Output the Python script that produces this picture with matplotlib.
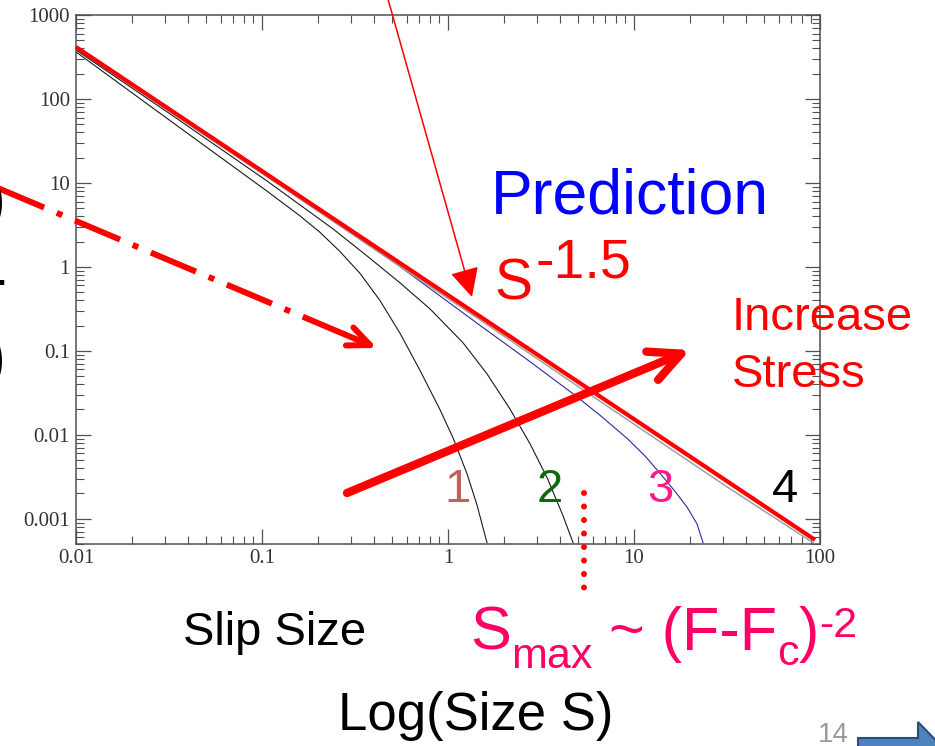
import matplotlib
matplotlib.use('Agg')
import matplotlib.pyplot as plt
import numpy as np
from matplotlib.patches import FancyArrowPatch, Polygon
from matplotlib.lines import Line2D
from matplotlib.transforms import IdentityTransform
from matplotlib.ticker import LogLocator, NullFormatter
from matplotlib import font_manager as fm

# ---------------- data ----------------
x_ticks = [0.01, 0.1, 1, 10, 100]
x_tick_labels = ["0.01", "0.1", "1", "10", "100"]
y_ticks = [0.001, 0.01, 0.1, 1, 10, 100, 1000]
y_tick_labels = ["0.001", "0.01", "0.1", "1", "10", "100", "1000"]

# curve 1 (lowest stress)
c1_x = [0.01, 0.0345, 0.106, 0.16, 0.205, 0.262, 0.336, 0.43, 0.552, 0.706, 0.906, 1.064, 1.265, 1.43, 1.62]
c1_y = [363, 49.0, 8.03, 4.05, 2.58, 1.53, 0.84, 0.40, 0.162, 0.0588, 0.0199, 0.0092, 0.00344, 0.00147, 0.00052]
# curve 2
c2_x = [0.01, 0.0345, 0.106, 0.16, 0.241, 0.367, 0.552, 0.80, 1.205, 1.62, 2.15, 2.76, 3.41, 4.15, 4.70]
c2_y = [383, 59.4, 10.6, 5.47, 2.83, 1.35, 0.645, 0.316, 0.1245, 0.0532, 0.0204, 0.00782, 0.00308, 0.00109, 0.00052]
# curve 3 (blue)
c3_x = [0.01, 0.0345, 0.119, 0.552, 1.486, 2.76, 4.70, 6.56, 9.17, 11.5, 13.8, 16.6, 19.3, 21.8, 23.5]
c3_y = [394, 64.6, 10.3, 1.01, 0.201, 0.0743, 0.0308, 0.0171, 0.00908, 0.00554, 0.00348, 0.00212, 0.00137, 0.00087, 0.00052]
# curve 4 (grey, critical)
c4_x = [0.01, 0.0345, 0.119, 0.43, 1.486, 5.13, 13.8, 31.6, 71.6, 91.6]
c4_y = [405, 62.8, 10.0, 1.47, 0.234, 0.0363, 0.00826, 0.0024, 0.00074, 0.00052]
# prediction S^-1.5 (red straight line end points)
fit_x = [0.01, 94]
fit_y = [416, 0.00056]

labels_num = ["1", "2", "3", "4"]

# ---------------- figure ----------------
W, H = 935, 746
fig = plt.figure(figsize=(W / 100, H / 100), dpi=100)
fig.patch.set_facecolor('white')
ID = IdentityTransform()


def px(x, y):
    return (x, H - y)


try:
    fm.findfont(fm.FontProperties(family='Liberation Sans Narrow'), fallback_to_default=False)
    NARROW = True
except Exception:
    NARROW = False

SANS = ['Liberation Sans', 'DejaVu Sans']
NSANS = ['Liberation Sans Narrow', 'Liberation Sans', 'DejaVu Sans'] if NARROW else SANS

ax = fig.add_axes([76 / W, (H - 544) / H, (820 - 76) / W, (544 - 15) / H])
ax.set_xscale('log')
ax.set_yscale('log')

ax.plot(c1_x, c1_y, color='#1a1a1a', lw=0.8)
ax.plot(c2_x, c2_y, color='#1a1a1a', lw=0.8)
ax.plot(c3_x, c3_y, color='#2b2b99', lw=0.8)
ax.plot(c4_x, c4_y, color='#a89c9c', lw=1.1)
ax.plot(fit_x, fit_y, color='#ff0000', lw=3.0, solid_capstyle='butt', clip_on=False, zorder=5)

ax.set_xlim(0.01, 100)
ax.set_ylim(0.0005, 1000)

axis_col = '#505050'
for sp in ax.spines.values():
    sp.set_color(axis_col)
    sp.set_linewidth(1.1)

ax.set_xticks(x_ticks)
ax.set_xticklabels(x_tick_labels, fontfamily=['Liberation Serif', 'DejaVu Serif'], fontsize=15, color='#333333')
ax.set_yticks(y_ticks)
ax.set_yticklabels(y_tick_labels, fontfamily=['Liberation Serif', 'DejaVu Serif'], fontsize=15, color='#333333')
ax.xaxis.set_minor_locator(LogLocator(base=10, subs=np.arange(2, 10), numticks=100))
ax.yaxis.set_minor_locator(LogLocator(base=10, subs=np.arange(2, 10), numticks=100))
ax.xaxis.set_minor_formatter(NullFormatter())
ax.yaxis.set_minor_formatter(NullFormatter())
ax.tick_params(which='both', direction='in', top=True, right=True, color=axis_col)
ax.tick_params(which='major', length=10.8, width=0.9)
ax.tick_params(which='minor', length=5.8, width=0.8)
ax.tick_params(axis='x', which='major', pad=3.5)
ax.tick_params(axis='y', which='major', pad=4.3)

# ---------------- annotations ----------------
# thin arrow from the top
fig.add_artist(FancyArrowPatch(px(386, -8), px(472, 297), transform=ID,
                               arrowstyle='-|>,head_length=0.9,head_width=0.45',
                               mutation_scale=20, lw=1.1, color='#ff0000',
                               shrinkA=0, shrinkB=0))
# dash-dot arrow from the left
fig.add_artist(Line2D([-33, 345], [H - 175, H - 334.5], transform=ID, lw=4.3, color='#ff0000',
                      linestyle=(0, (8.2, 2.3, 1.0, 2.3)), dash_capstyle='butt'))
fig.add_artist(FancyArrowPatch(px(345, 334.5), px(377, 348), transform=ID,
                               arrowstyle='->,head_length=0.8,head_width=0.35',
                               mutation_scale=20, lw=4.3, color='#ff0000',
                               shrinkA=0, shrinkB=0))
# thick "increase stress" arrow
fig.add_artist(FancyArrowPatch(px(347, 493), px(690, 350), transform=ID,
                               arrowstyle='->,head_length=1.13,head_width=0.55',
                               mutation_scale=20, lw=6, color='#ff0000',
                               shrinkA=0, shrinkB=0, zorder=6))
# dotted vertical line
fig.add_artist(Line2D([584, 584], [H - 493, H - 592], transform=ID, lw=4.3, color='#ff0000',
                      linestyle=(0, (0.01, 2.25)), dash_capstyle='round'))

# ---------------- texts ----------------
def T(x, y, s, size, color='black', family=SANS, **kw):
    return fig.text(x, H - y, s, transform=ID, fontsize=size, color=color,
                    family=family, va='baseline', ha=kw.pop('ha', 'left'), **kw)

T(491, 213, 'Prediction', 45, '#0000ff')
T(494, 300, 'S', 41, '#ff0000')
T(535, 278, '-1.5', 40, '#ff0000')
T(732, 330, 'Increase', 34, '#ff0000')
T(732, 387, 'Stress', 34, '#ff0000')

num_cols = ['#c0605a', '#0b6b0b', '#ff1a8c', '#000000']
num_x = [457, 550, 660, 785]
for s, c, xx in zip(labels_num, num_cols, num_x):
    T(xx, 502, s, 34, c, ha='center')

# left-edge cut glyphs
T(6, 220, ')', 48, 'black', ha='right')
T(7, 300, '-', 48, 'black', ha='right')
T(6, 378, ')', 48, 'black', ha='right')

if NARROW:
    slip_fs, log_fs, fmain, fsub, n14 = 42, 45, 50, 35, 23
else:
    slip_fs, log_fs, fmain, fsub, n14 = 34, 38, 44, 31, 20

T(183, 645, 'Slip Size', slip_fs, 'black', family=NSANS)
T(338, 730, 'Log(Size S)', log_fs, 'black', family=NSANS)
T(818, 742, '14', n14, '#9a9a9a', family=NSANS)

# formula S_max ~ (F-F_c)^-2 built from pieces
renderer = fig.canvas.get_renderer()
fcol = '#ff0066'
pieces = [('S', fmain, 0), ('max', fsub, -18), (' ~ (F-F', fmain, 0),
          ('c', fsub, -15), (')', fmain, 0), ('-2', fsub, 13)]
xcur = 470
for s, fs, dy in pieces:
    t = T(xcur, 650 - dy, s, fs, fcol, family=NSANS)
    bb = t.get_window_extent(renderer)
    xcur = bb.x1

# blue block arrow in the corner
fig.add_artist(Polygon([px(858, 760), px(858, 738), px(918, 738), px(918, 722), px(955, 760)],
                       closed=True, transform=ID, facecolor='#4f81bd', edgecolor='#2c4d75', lw=1.5))

fig.savefig('out.png', dpi=100, facecolor='white')
